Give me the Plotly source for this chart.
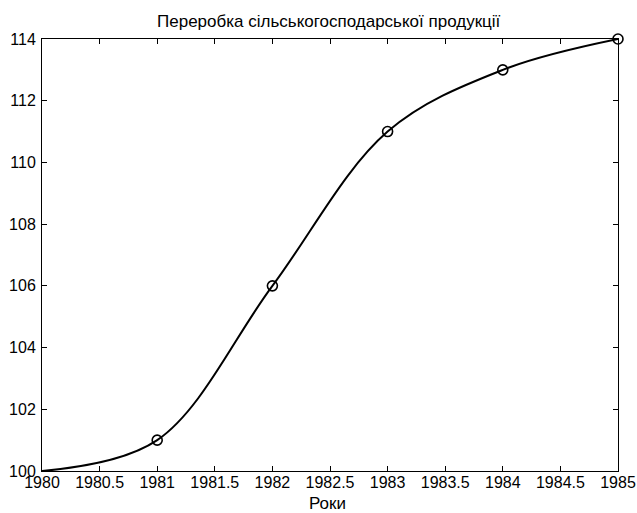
import plotly.graph_objects as go

years = [1980, 1981, 1982, 1983, 1984, 1985]
values = [100, 101, 106, 111, 113, 114]
marker_years = [1981, 1982, 1983, 1984, 1985]
marker_values = [101, 106, 111, 113, 114]
x_ticks = [1980, 1980.5, 1981, 1981.5, 1982, 1982.5, 1983, 1983.5, 1984, 1984.5, 1985]
y_ticks = [100, 102, 104, 106, 108, 110, 112, 114]
title_text = "Переробка сільськогосподарської продукції"
x_label = "Роки"

FONT = "Liberation Sans, Arial"

fig = go.Figure()
fig.add_trace(go.Scatter(x=years, y=values, mode="lines",
                         line=dict(color="black", width=2, shape="spline", smoothing=1.0),
                         showlegend=False, cliponaxis=False))
fig.add_trace(go.Scatter(x=marker_years, y=marker_values, mode="markers",
                         marker=dict(symbol="circle-open", size=10, color="black",
                                     line=dict(width=1.6, color="black")),
                         showlegend=False, cliponaxis=False))

axis_common = dict(showgrid=False, zeroline=False, showline=True, linecolor="black",
                   linewidth=1, mirror="ticks", ticks="inside", ticklen=5,
                   tickcolor="black", automargin=False,
                   tickfont=dict(family=FONT, size=16, color="black"))

fig.update_layout(
    width=637, height=513,
    margin=dict(l=42, r=19, t=39, b=42),
    paper_bgcolor="white", plot_bgcolor="white",
    xaxis=dict(range=[1980, 1985], tickvals=x_ticks,
               ticktext=[("%g" % v) for v in x_ticks], ticklabelstandoff=-3,
               **axis_common),
    yaxis=dict(range=[100, 114], tickvals=y_ticks, ticklabelstandoff=2, **axis_common),
    annotations=[
        dict(text=title_text, xref="paper", yref="paper", x=0.499, y=1.0,
             yshift=18, xanchor="center", yanchor="middle", showarrow=False,
             font=dict(family=FONT, size=17, color="black")),
        dict(text=x_label, xref="paper", yref="paper", x=0.496, y=0.0,
             yshift=-32, xanchor="center", yanchor="middle", showarrow=False,
             font=dict(family=FONT, size=17, color="black")),
    ],
)
fig.write_html("out.html", config={"displayModeBar": False},
               post_script="document.body.style.margin='0';document.body.style.padding='0';")
